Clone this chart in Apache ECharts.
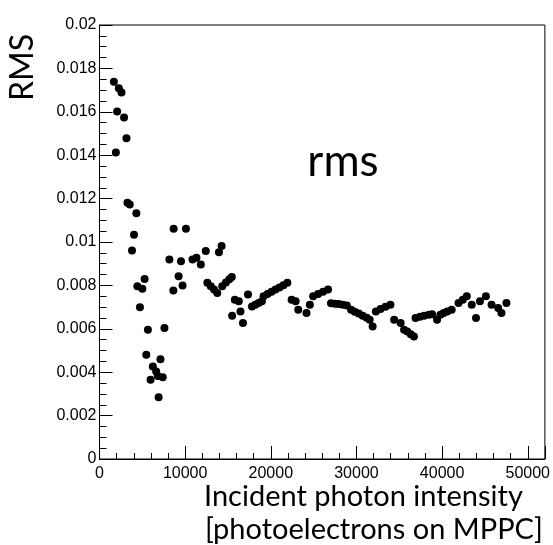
<!DOCTYPE html>
<html><head><meta charset="utf-8">
<script src="https://cdn.jsdelivr.net/npm/echarts@6/dist/echarts.min.js"></script>
<style>html,body{margin:0;padding:0;background:#fff}#c{width:553px;height:545px}</style>
</head><body><div id="c"></div>
<script>
const xValues = [1678,1910,2060,2257,2569,2870,3148,3264,3530,3796,4028,4305,4421,4722,5000,5266,5463,5648,5960,6227,6620,6805,6900,7118,7384,7581,8160,8623,8657,9236,9514,9699,10093,10856,11319,11829,12407,12592,12986,13368,13750,13946,14259,14330,14757,15162,15451,15486,15800,16262,16458,16750,17338,17800,18195,18576,18958,19155,19618,20080,20544,21007,21470,21933,22430,22900,23205,24167,24560,24942,25520,26100,26680,27025,27490,27950,28414,28877,29375,29800,30266,30730,31190,31540,31888,32270,32810,33390,33970,34400,35160,35560,35935,36340,36710,36900,37410,37900,38450,38830,39410,39800,40185,40600,41120,41920,42420,42880,43460,43960,44420,45115,45775,46550,46930,47510];
const rmsValues = [0.01738,0.01412,0.01601,0.01708,0.01689,0.01574,0.01478,0.01181,0.01173,0.00961,0.01033,0.01132,0.00796,0.00699,0.00784,0.00830,0.00480,0.00596,0.00365,0.00426,0.00403,0.00383,0.00285,0.00460,0.00377,0.00604,0.00919,0.00777,0.01061,0.00842,0.00911,0.00799,0.01061,0.00919,0.00927,0.00896,0.00958,0.00812,0.00796,0.00781,0.00765,0.00953,0.00981,0.00796,0.00813,0.00828,0.00839,0.00660,0.00734,0.00727,0.00680,0.00627,0.00758,0.00703,0.00711,0.00719,0.00727,0.00750,0.00760,0.00771,0.00781,0.00790,0.00801,0.00812,0.00734,0.00727,0.00688,0.00673,0.00711,0.00750,0.00760,0.00771,0.00781,0.00718,0.00716,0.00714,0.00711,0.00707,0.00688,0.00679,0.00670,0.00660,0.00651,0.00642,0.00611,0.00680,0.00691,0.00702,0.00711,0.00642,0.00627,0.00596,0.00587,0.00575,0.00565,0.00650,0.00656,0.00660,0.00665,0.00667,0.00642,0.00665,0.00673,0.00680,0.00688,0.00719,0.00734,0.00750,0.00711,0.00650,0.00727,0.00750,0.00711,0.00696,0.00673,0.00719];
const xTickLabels = ['0','10000','20000','30000','40000','50000'];
const yTickLabels = ['0','0.002','0.004','0.006','0.008','0.01','0.012','0.014','0.016','0.018','0.02'];
const yTitle = 'RMS';
const panelText = 'rms';
const xTitle1 = 'Incident photon intensity';
const xTitle2 = '[photoelectrons on MPPC]';

const pts = xValues.map((x,i)=>[x, rmsValues[i]]);
const chart = echarts.init(document.getElementById('c'), null, {renderer:'canvas'});
const lblFont = {fontFamily:'Liberation Sans, Arial, sans-serif', fontSize:16, color:'#000'};
chart.setOption({
  animation:false,
  grid:{left:99.5, right:4.5, top:25, bottom:86, show:true, borderColor:'#000', borderWidth:1, backgroundColor:'transparent'},
  xAxis:[
    {type:'value', min:0, max:52000, interval:2000, position:'bottom',
     axisLine:{show:true, onZero:false, lineStyle:{color:'#000', width:1}},
     axisTick:{show:true, inside:true, length:6, lineStyle:{color:'#000'}},
     axisLabel:{show:false}, splitLine:{show:false}},
    {type:'value', min:0, max:52000, interval:10000, position:'bottom',
     axisLine:{show:false, onZero:false},
     axisTick:{show:true, inside:true, length:13, lineStyle:{color:'#000'}},
     axisLabel:Object.assign({show:true, margin:7, formatter:v=>{const i=v/10000; return Number.isInteger(i)&&i<xTickLabels.length? xTickLabels[i]:'';}}, lblFont),
     splitLine:{show:false}}
  ],
  yAxis:[
    {type:'value', min:0, max:0.02, interval:0.0005, position:'left',
     axisLine:{show:true, onZero:false, lineStyle:{color:'#000', width:1}},
     axisTick:{show:true, inside:true, length:7, lineStyle:{color:'#000'}},
     axisLabel:{show:false}, splitLine:{show:false}},
    {type:'value', min:0, max:0.02, interval:0.002, position:'left',
     axisLine:{show:false, onZero:false},
     axisTick:{show:true, inside:true, length:13, lineStyle:{color:'#000'}},
     axisLabel:Object.assign({show:true, margin:3, formatter:v=>{const i=Math.round(v/0.002); return yTickLabels[i]!==undefined? yTickLabels[i]:'';}}, lblFont),
     splitLine:{show:false}}
  ],
  series:[{type:'scatter', xAxisIndex:0, yAxisIndex:0, data:pts, symbol:'circle', symbolSize:8,
    itemStyle:{color:'#000', opacity:1}, silent:true}],
  graphic:[
    {type:'text', rotation:Math.PI/2, x:7, y:101, style:{text:yTitle, font:'32px Lato, "Open Sans", sans-serif', fill:'#000'}},
    {type:'text', x:343, y:162, style:{text:panelText, font:'44px Lato, "Open Sans", sans-serif', fill:'#000', textAlign:'center', textVerticalAlign:'middle'}},
    {type:'text', x:204, y:497, style:{text:xTitle1, font:'29px Lato, "Open Sans", sans-serif', fill:'#000', textAlign:'left', textVerticalAlign:'middle'}},
    {type:'text', x:205, y:530, style:{text:xTitle2, font:'29px Lato, "Open Sans", sans-serif', fill:'#000', textAlign:'left', textVerticalAlign:'middle'}}
  ]
});
</script></body></html>
